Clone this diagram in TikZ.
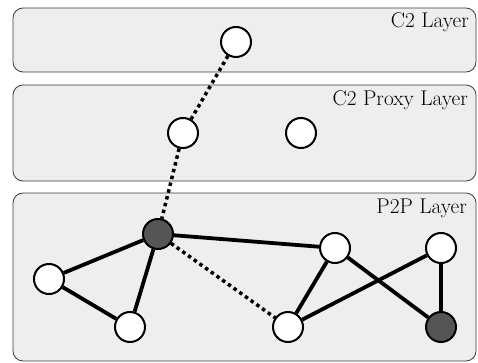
\documentclass[tikz,border=0pt]{standalone}
\usepackage{fontspec}
\setmainfont{Latin Modern Roman}
\definecolor{layerfill}{RGB}{238,238,238}
\definecolor{layerline}{RGB}{60,60,60}
\definecolor{darknode}{RGB}{85,85,85}
\tikzset{
  layer/.style={draw=layerline, line width=0.8pt, fill=layerfill, rounded corners=10pt},
  layerlabel/.style={anchor=base east, inner sep=0pt, font=\fontsize{21.3}{25}\selectfont},
  peer/.style={circle, draw=black, line width=2pt, fill=white, minimum size=30pt, inner sep=0pt},
  bot/.style={peer, fill=darknode},
  link/.style={line width=3.8pt},
  ctrl/.style={line width=3.5pt, dash pattern=on 3.5pt off 3.5pt}
}
\begin{document}
\begin{tikzpicture}[x=1pt,y=-1pt]
\useasboundingbox (0,0) rectangle (478,363);
% layers
\draw[layer] (13,8) rectangle (476,72);
\draw[layer] (13,85) rectangle (476,181);
\draw[layer] (13,193) rectangle (476,361);
\node[layerlabel] (l1) at (469,28) {C2 Layer};
\node[layerlabel] (l2) at (468,106) {C2 Proxy Layer};
\node[layerlabel] (l3) at (467,213) {P2P Layer};
% nodes
\node[peer] (c2) at (236,42) {};
\node[peer] (p1) at (183,133) {};
\node[peer] (p2) at (301,133) {};
\node[bot]  (b1) at (158,234) {};
\node[peer] (n1) at (49,279) {};
\node[peer] (n2) at (130,327) {};
\node[peer] (n3) at (335,248) {};
\node[peer] (n4) at (288,327) {};
\node[peer] (n5) at (441,248) {};
\node[bot]  (b2) at (441,327) {};
% edges
\draw[link] (b1) -- (n1);
\draw[link] (b1) -- (n2);
\draw[link] (n1) -- (n2);
\draw[link] (b1) -- (n3);
\draw[link] (n3) -- (n4);
\draw[link] (n3) -- (b2);
\draw[link] (n4) -- (n5);
\draw[link] (n5) -- (b2);
\draw[ctrl] (c2) -- (p1);
\draw[ctrl] (p1) -- (b1);
\draw[ctrl] (b1) -- (n4);
\end{tikzpicture}
\end{document}
